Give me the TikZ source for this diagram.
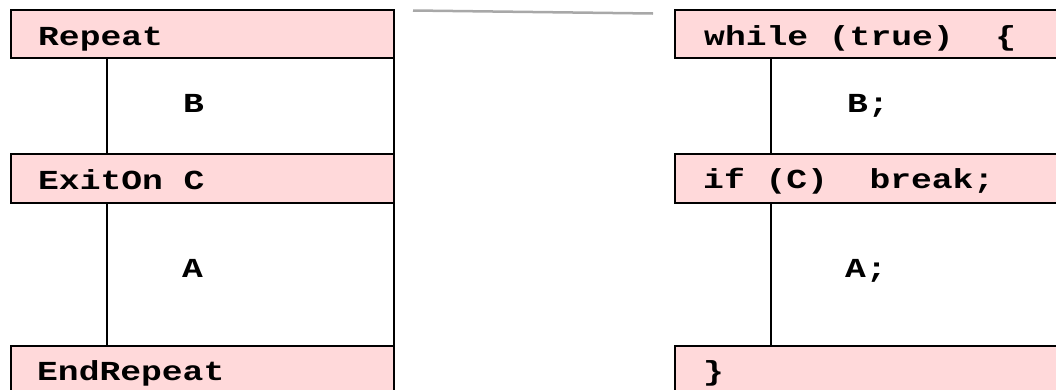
\documentclass[tikz,border=0pt]{standalone}
\usepackage{fontspec}
\newfontfamily\cf[FakeStretch=1.26]{Liberation Mono}
\definecolor{barpink}{RGB}{255,217,218}
\definecolor{rulegray}{RGB}{168,168,168}
\begin{document}
\begin{tikzpicture}[x=1pt,y=-1pt,
  bar/.style={draw=black,line width=2pt,fill=barpink},
  body/.style={draw=black,line width=2pt,fill=white},
  code/.style={font={\fontsize{27.5}{30}\selectfont\cf\bfseries},inner sep=0pt,anchor=base west}]
\useasboundingbox (0,0) rectangle (1056,389);
\clip (0,0) rectangle (1056,389);
% left panel
\draw[body] (107,58) rectangle (394,154);
\draw[body] (107,203) rectangle (394,346);
\draw[bar] (11,10) rectangle (394,58);
\draw[bar] (11,154) rectangle (394,203);
\draw[bar] (11,346) rectangle (394,396);
\node[code] (repeat) at (38,45) {Repeat};
\node[code] (lb) at (183,112) {B};
\node[code] (exiton) at (38,189) {ExitOn C};
\node[code] (la) at (182,277) {A};
\node[code] (endrepeat) at (37,380) {EndRepeat};
% gray rule
\coordinate (g1) at (413,10.5);
\coordinate (g2) at (653,13.5);
\draw[rulegray,line width=2.5pt] (g1) -- (g2);
% right panel
\draw[body] (771,58) rectangle (1070,154);
\draw[body] (771,203) rectangle (1070,346);
\draw[bar] (675,10) rectangle (1070,58);
\draw[bar] (675,154) rectangle (1070,203);
\draw[bar] (675,346) rectangle (1070,396);
\node[code] (while) at (704,45) {while (true)\ \ \{};
\node[code] (rb) at (847,112) {B;};
\node[code] (ifc) at (703,188) {if (C)\ \ break;};
\node[code] (ra) at (845,277) {A;};
\node[code] (close) at (703,380) {\}};
\end{tikzpicture}
\end{document}
